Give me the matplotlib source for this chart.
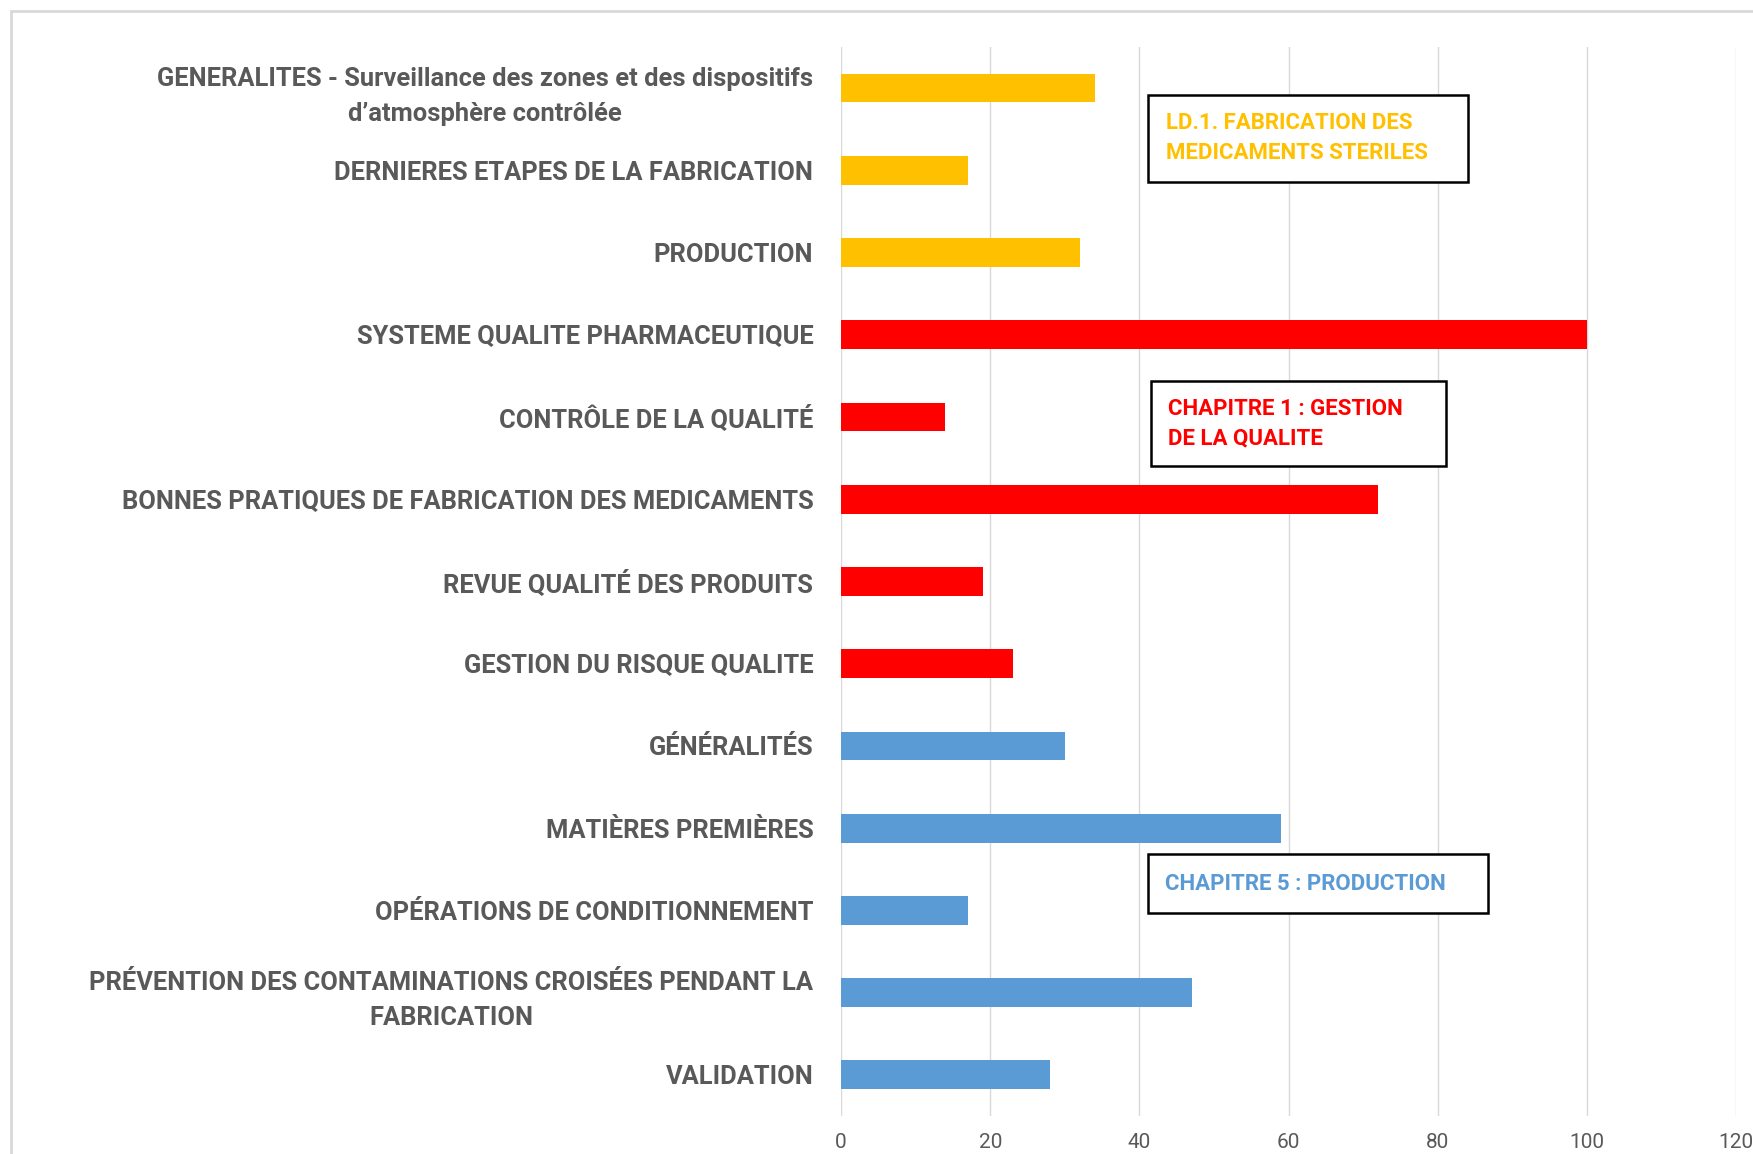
import matplotlib
matplotlib.use("Agg")
import matplotlib.pyplot as plt
from matplotlib.patches import Rectangle

plt.rcParams['font.family'] = ['Roboto', 'DejaVu Sans']

# data, top to bottom as in the picture
categories = [
    "GENERALITES - Surveillance des zones et des dispositifs\nd\u2019atmosph\u00e8re contr\u00f4l\u00e9e",
    "DERNIERES ETAPES DE LA FABRICATION",
    "PRODUCTION",
    "SYSTEME QUALITE PHARMACEUTIQUE",
    "CONTR\u00d4LE DE LA QUALIT\u00c9",
    "BONNES PRATIQUES DE FABRICATION DES MEDICAMENTS",
    "REVUE QUALIT\u00c9 DES PRODUITS",
    "GESTION DU RISQUE QUALITE",
    "G\u00c9N\u00c9RALIT\u00c9S",
    "MATI\u00c8RES PREMI\u00c8RES",
    "OP\u00c9RATIONS DE CONDITIONNEMENT",
    "PR\u00c9VENTION DES CONTAMINATIONS CROIS\u00c9ES PENDANT LA\nFABRICATION",
    "VALIDATION",
]
values = [34, 17, 32, 100, 14, 72, 19, 23, 30, 59, 17, 47, 28]
groups = ["LD1", "LD1", "LD1", "CH1", "CH1", "CH1", "CH1", "CH1",
          "CH5", "CH5", "CH5", "CH5", "CH5"]
group_colors = {"LD1": "#FFC000", "CH1": "#FF0000", "CH5": "#5B9BD5"}
group_titles = {
    "LD1": "LD.1. FABRICATION DES\nMEDICAMENTS STERILES",
    "CH1": "CHAPITRE 1 : GESTION\nDE LA QUALITE",
    "CH5": "CHAPITRE 5 : PRODUCTION",
}
x_ticks = [0, 20, 40, 60, 80, 100, 120]

fig = plt.figure(figsize=(17.53, 11.54), dpi=100)
ax = fig.add_axes([0.4798, 0.033, 0.5105, 0.9263])

# chart border (light gray, cut at the right / bottom edges)
fig.patches.append(Rectangle((11 / 1753, -0.1), 1.2, 1 - 11 / 1154 + 0.1,
                             transform=fig.transFigure, fill=False,
                             edgecolor="#D9D9D9", linewidth=2))

ypos = list(range(len(categories)))
colors = [group_colors[g] for g in groups]
ax.barh(ypos, values, height=0.35, color=colors, zorder=3)

ax.set_ylim(len(categories) - 0.5, -0.5)
ax.set_xlim(0, 120)
ax.set_xticks(x_ticks)
ax.set_yticks(ypos)
ax.set_yticklabels(categories, fontsize=18.4, fontweight="bold", color="#595959",
                   multialignment="center", linespacing=1.6)
ax.tick_params(axis="y", length=0, pad=20)
ax.tick_params(axis="x", length=0, pad=12, labelsize=15, labelcolor="#595959")

ax.grid(axis="x", color="#D9D9D9", linewidth=1, zorder=0)
for s in ax.spines.values():
    s.set_visible(False)

# group annotation boxes: (x0, x1, y_top, y_bottom) in data units
box_spec = {
    "LD1": (41.2, 84.1, 0.08, 1.14),
    "CH1": (41.5, 81.1, 3.56, 4.60),
    "CH5": (41.1, 86.8, 9.32, 10.03),
}
for g, (x0, x1, yt, yb) in box_spec.items():
    ax.add_patch(Rectangle((x0, yt), x1 - x0, yb - yt, facecolor="white",
                           edgecolor="black", linewidth=1.8, zorder=5))
    ax.text(x0 + 2.4, (yt + yb) / 2, group_titles[g], color=group_colors[g],
            fontsize=16, fontweight="bold", ha="left", va="center",
            linespacing=1.45, zorder=6)

fig.savefig("out.png", dpi=100)
